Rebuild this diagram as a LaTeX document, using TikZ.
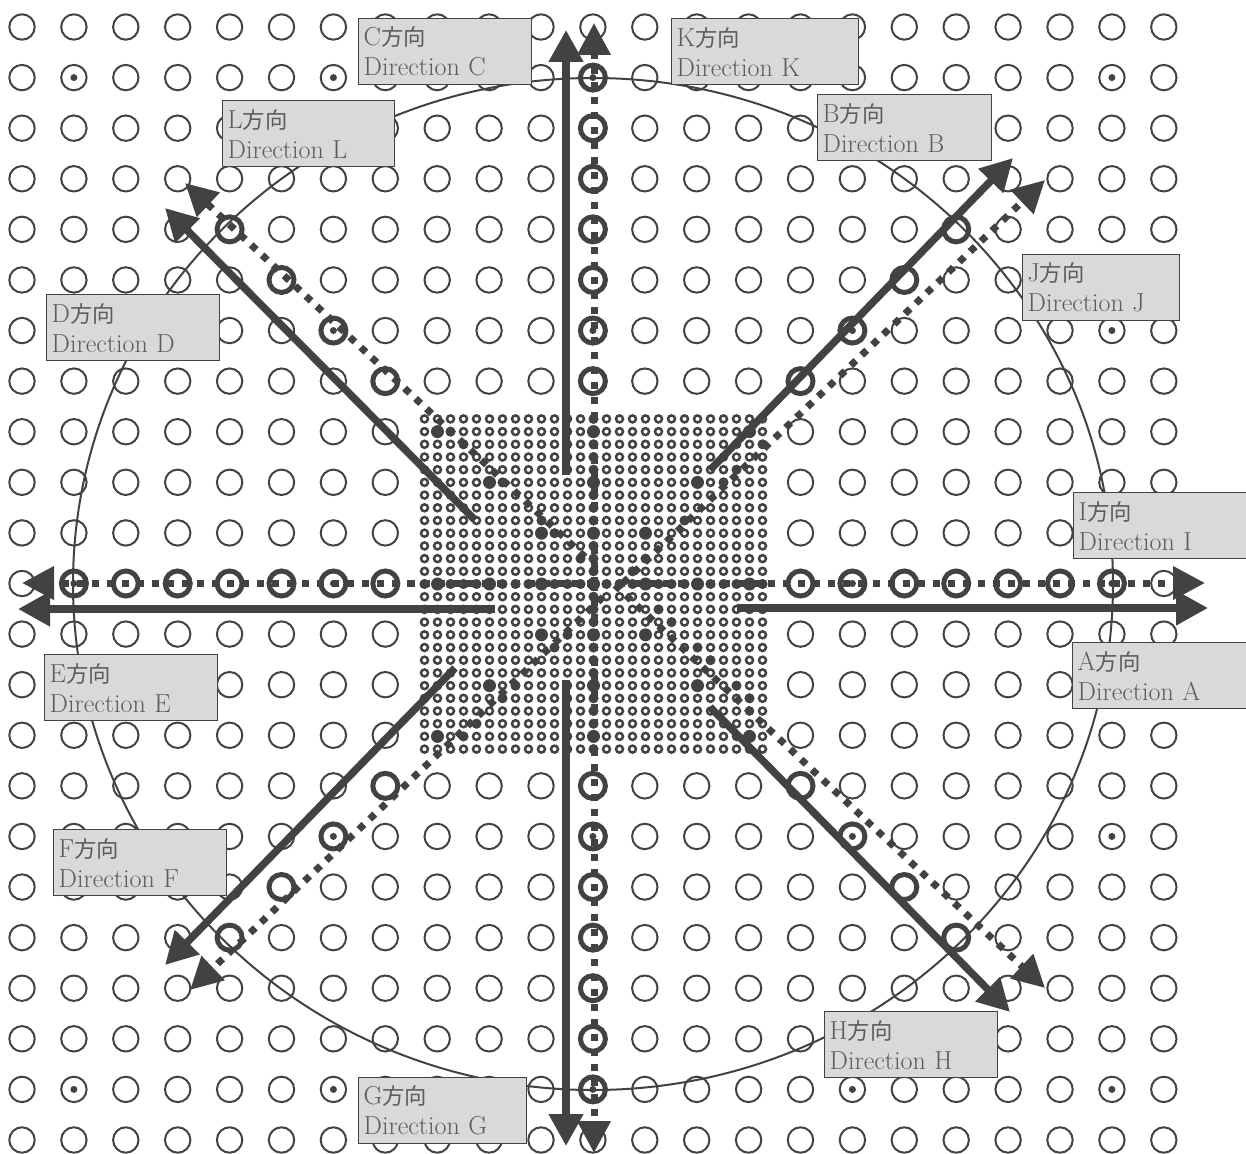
\documentclass[tikz,border=0pt]{standalone}
\usepackage{fontspec}
\usepackage{xcolor}
\usetikzlibrary{arrows.meta}
\newfontfamily\cjk[Scale=0.86]{Noto Sans CJK JP}
\definecolor{ink}{HTML}{424242}
\definecolor{labelgrey}{HTML}{5C5C5C}
\definecolor{boxgrey}{HTML}{D9D9D9}
\tikzset{
    ring/.style={draw=ink,circle,line width=2pt,minimum size=25.4pt,inner sep=0pt},
    thickring/.style={draw=ink,circle,line width=5pt,minimum size=25pt,inner sep=0pt},
    centredot/.style={fill=ink,circle,minimum size=7pt,inner sep=0pt},
    minidot/.style={draw=ink,circle,line width=2.5pt,minimum size=7pt,inner sep=0pt},
    middot/.style={fill=ink,circle,minimum size=10pt,inner sep=0pt},
    bigdot/.style={fill=ink,circle,minimum size=13pt,inner sep=0pt},
    solidarrow/.style={-{Triangle[length=32pt,width=33pt]},draw=ink,line width=7.5pt},
    dotarrow/.style={-{Triangle[length=32pt,width=32pt]},draw=ink,line width=7pt,
      dash pattern=on 7pt off 8pt},
    dirbox/.style={draw=ink,fill=boxgrey,line width=1.4pt,anchor=north west,
      minimum height=66pt,inner xsep=5pt,inner ysep=0pt,align=left,
      text=labelgrey,font=\fontsize{26}{30}\selectfont}
}
\begin{document}
\begin{tikzpicture}[x=1pt,y=-1pt]
  \useasboundingbox (0,0) rectangle (1246,1153);
  % coarse grid
  \foreach \i in {0,...,22}
    \foreach \j in {0,...,22}{
      \pgfmathtruncatemacro{\inside}{and(abs(\i-11)<4,abs(\j-11)<4)}
      \ifnum\inside=0
        \node[ring] (r\i-\j) at ({22+51.9*\i},{27+50.59*\j}) {};
      \fi
    }
  % fine grid
  \foreach \i in {-13,...,13}
    \foreach \j in {-13,...,13}
      \node[minidot] (s\i/\j) at ({593.5+13*\i},{584+12.7*\j}) {};
  \foreach \k in {-13,...,13}{
    \node[middot] (ax\k) at (s\k/0) {};
    \node[middot] (ay\k) at (s0/\k) {};
  }
  \foreach \i/\j in {-12/-12,-8/-8,-4/-4,12/-12,8/-8,4/-4,-12/12,-8/8,-4/4,12/12,8/8,4/4,
      -12/0,-8/0,-4/0,0/0,4/0,8/0,12/0,0/-12,0/-8,0/-4,0/4,0/8,0/12}
    \node[bigdot] (b\i/\j) at (s\i/\j) {};
  \foreach \i/\j in {-11/-12,-10/-11,-7/-8,-4/-5,-3/-4,-1/-2,
      3/-1,4/-2,7/-5,10/-8,11/-9,13/-11,
      5/2,6/3,8/5,9/6,11/8,12/9,
      -2/4,-3/5,-6/8,-7/9,-9/11,-10/12}
    \node[middot] (m\i/\j) at (s\i/\j) {};
  % circle through the directions
  \coordinate (ctr) at (593,584);
  \draw[ink,line width=2pt] (ctr) ellipse (520 and 506);
  % rings with a dot
  \foreach \i in {1,6,16,21}
    \foreach \j in {1,6,11,16,21}
      \node[centredot] (d\i-\j) at (r\i-\j) {};
  \foreach \j in {1,6,16,21}
    \node[centredot] (e\j) at (r11-\j) {};
  % thick rings
  \foreach \k in {1,...,7}{
    \pgfmathtruncatemacro{\far}{22-\k}
    \node[thickring] (hl\k) at (r\k-11) {};
    \node[thickring] (hr\k) at (r\far-11) {};
    \node[thickring] (vt\k) at (r11-\k) {};
    \node[thickring] (vb\k) at (r11-\far) {};
  }
  \foreach \k in {4,...,7}{
    \pgfmathtruncatemacro{\far}{22-\k}
    \node[thickring] (q1\k) at (r\k-\k) {};
    \node[thickring] (q2\k) at (r\far-\k) {};
    \node[thickring] (q3\k) at (r\k-\far) {};
    \node[thickring] (q4\k) at (r\far-\far) {};
  }
  % solid arrows
  \coordinate (a0) at (737,608);  \coordinate (a1) at (1208,608);
  \coordinate (b0) at (710,470);  \coordinate (b1) at (1013,158);
  \coordinate (c0) at (566,475);  \coordinate (c1) at (566,30);
  \coordinate (d0) at (475,520);  \coordinate (d1) at (165,208);
  \coordinate (e0) at (495,609);  \coordinate (e1) at (18,609);
  \coordinate (f0) at (455,668);  \coordinate (f1) at (165,965);
  \coordinate (g0) at (566,680);  \coordinate (g1) at (566,1146);
  \coordinate (h0) at (710,707);  \coordinate (h1) at (1010,1012);
  \foreach \nm in {a,b,c,d,e,f,g,h}
    \draw[solidarrow] (\nm0)--(\nm1);
  % dotted arrows
  \coordinate (i0) at (408,583);  \coordinate (i1) at (1205,583);
  \coordinate (j0) at (623,583);  \coordinate (j1) at (1045,180);
  \coordinate (k0) at (594,584);  \coordinate (k1) at (594,23);
  \coordinate (l0) at (585,557);  \coordinate (l1) at (185,183);
  \coordinate (m0) at (594,583);  \coordinate (m1) at (22,583);
  \coordinate (n0) at (603,597);  \coordinate (n1) at (190,990);
  \coordinate (o0) at (594,584);  \coordinate (o1) at (594,1153);
  \coordinate (p0) at (615,585);  \coordinate (p1) at (1045,988);
  \foreach \nm in {i,j,k,l,m,n,o,p}
    \draw[dotarrow] (\nm0)--(\nm1);
  % direction labels
  \foreach \nm/\xa/\ya/\boxw in {A/1072/642/174,B/817/94/174,C/358/18/173,D/46/294/173,
      E/44/654/173,F/53/829/173,G/358/1077/168,H/824/1011/173,I/1073/492/173,
      J/1022/254/157,K/671/18/187,L/222/100/172}{
    \pgfmathsetmacro{\tw}{\boxw-10}
    \node[dirbox,text width=\tw pt] (dir\nm) at (\xa,\ya) {\nm{\cjk 方向}\\Direction \nm};
  }
\end{tikzpicture}
\end{document}
